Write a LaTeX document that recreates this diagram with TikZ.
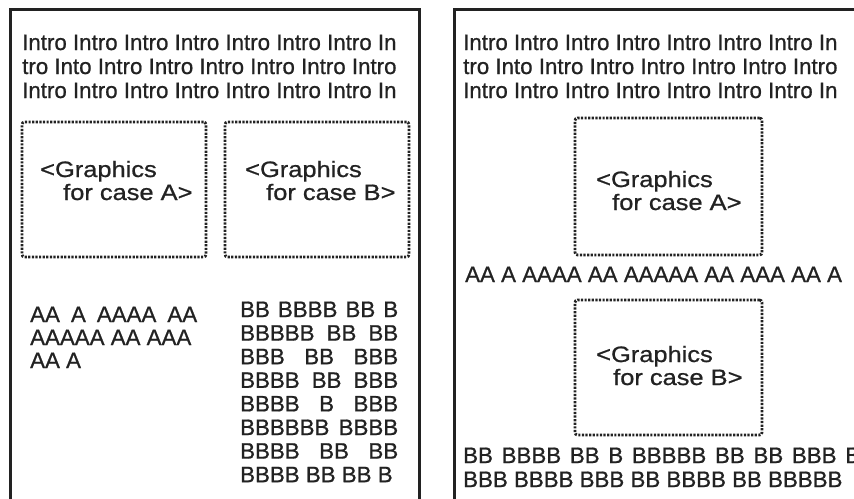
\documentclass[tikz,border=0pt]{standalone}
\usepackage{fontspec}
\setmainfont[FakeBold=0.8]{Liberation Sans}
\newfontfamily\gfont[FakeStretch=1.14, FakeBold=0.8]{Liberation Sans}
\definecolor{ink}{HTML}{222222}
\tikzset{
  frame/.style={line width=3pt, draw=ink},
  gbox/.style={draw=ink, line width=2.8pt, dash pattern=on 2.2pt off 1.4pt, rounded corners=2.5pt, inner sep=0pt},
  txt/.style={inner sep=0pt, anchor=base west, text=ink, font=\fontsize{22.3}{24}\selectfont},
  gtxt/.style={txt, font=\gfont\fontsize{22.3}{24}\selectfont},
}
\begin{document}
\begin{tikzpicture}[x=1pt, y=-1pt]
\path[use as bounding box] (0,0) rectangle (854,498);
\clip (0,0) rectangle (854,498);
\fill[white] (0,0) rectangle (854,498);

% frames
\coordinate (l1) at (10.5,520);
\coordinate (l2) at (10.5,9.5);
\coordinate (l3) at (419.5,9.5);
\coordinate (l4) at (419.5,520);
\draw[frame] (l1) -- (l2) -- (l3) -- (l4);
\coordinate (r1) at (454.5,520);
\coordinate (r2) at (454.5,9.5);
\coordinate (r3) at (880,9.5);
\draw[frame] (r1) -- (r2) -- (r3);

% ---------- left page ----------
\node[txt] (li1) at (22,50) {Intro Intro Intro Intro Intro Intro Intro In};
\node[txt] (li2) at (22,74) {tro Into Intro Intro Intro Intro Intro Intro};
\node[txt] (li3) at (22,98) {Intro Intro Intro Intro Intro Intro Intro In};

\node[gbox, minimum width=184pt, minimum height=135pt] (lgA) at (114,189.5) {};
\node[gbox, minimum width=184pt, minimum height=135pt] (lgB) at (317,189.5) {};
\node[gtxt] (lgA1) at (40,177) {<Graphics};
\node[gtxt] (lgA2) at (63,200) {for case A>};
\node[gtxt] (lgB1) at (245,177) {<Graphics};
\node[gtxt] (lgB2) at (266,200) {for case B>};

\node[txt] (la1) at (30,322) {\makebox[167pt][s]{AA A AAAA AA}};
\node[txt] (la2) at (30,345) {AAAAA AA AAA};
\node[txt] (la3) at (30,368) {AA A};

\node[txt] (lb1) at (240,317) {\makebox[158pt][s]{BB BBBB BB B}};
\node[txt] (lb2) at (240,340.6) {\makebox[158pt][s]{BBBBB BB BB}};
\node[txt] (lb3) at (240,364.2) {\makebox[158pt][s]{BBB BB BBB}};
\node[txt] (lb4) at (240,387.8) {\makebox[158pt][s]{BBBB BB BBB}};
\node[txt] (lb5) at (240,411.4) {\makebox[158pt][s]{BBBB B BBB}};
\node[txt] (lb6) at (240,435) {\makebox[158pt][s]{BBBBBB BBBB}};
\node[txt] (lb7) at (240,458.6) {\makebox[158pt][s]{BBBB BB BB}};
\node[txt] (lb8) at (240,482.2) {BBBB BB BB B};

% ---------- right page ----------
\node[txt] (ri1) at (463,50) {Intro Intro Intro Intro Intro Intro Intro In};
\node[txt] (ri2) at (463,74) {tro Into Intro Intro Intro Intro Intro Intro};
\node[txt] (ri3) at (463,98) {Intro Intro Intro Intro Intro Intro Intro In};

\node[gbox, minimum width=187pt, minimum height=137pt] (rgA) at (668.5,186.5) {};
\node[gtxt] (rgA1) at (596,187) {<Graphics};
\node[gtxt] (rgA2) at (612,210) {for case A>};

\node[txt] (ra1) at (465,282) {AA A AAAA AA AAAAA AA AAA AA A};

\node[gbox, minimum width=187pt, minimum height=135pt] (rgB) at (668.5,367.5) {};
\node[gtxt] (rgB1) at (596,362) {<Graphics};
\node[gtxt] (rgB2) at (613,385) {for case B>};

\node[txt] (rb1) at (463,463) {\makebox[397pt][s]{BB BBBB BB B BBBBB BB BB BBB B}};
\node[txt] (rb2) at (463,487) {BBB BBBB BBB BB BBBB BB BBBBB};
\end{tikzpicture}
\end{document}
